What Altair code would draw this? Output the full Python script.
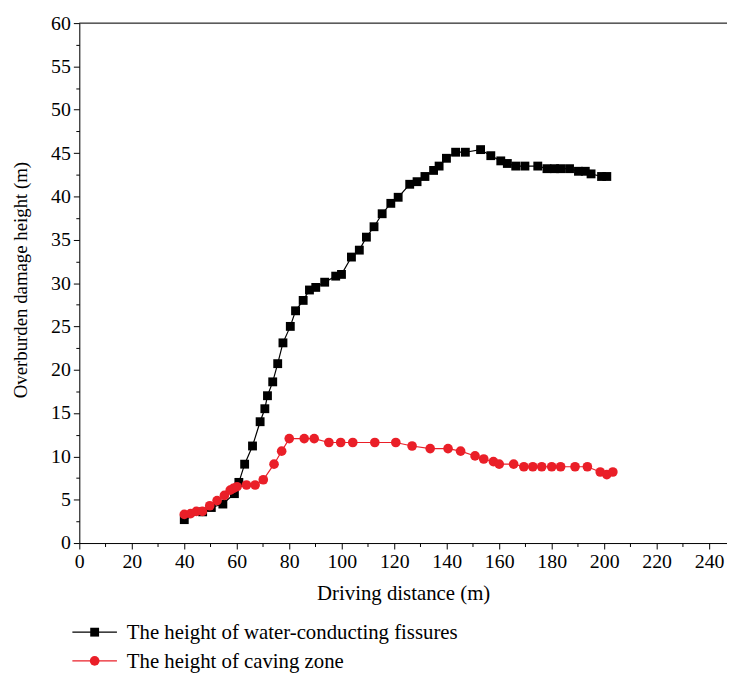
import altair as alt
import pandas as pd

# ---- data ----
fiss_x = [40, 47, 50.3, 54.7, 59.1, 60.8, 63, 66, 68.9, 70.7, 71.7, 73.7, 75.6, 77.6, 80.4, 82.4,
          85.3, 87.7, 90.1, 93.5, 97.7, 99.9, 103.7, 106.7, 109.4, 112.3, 115.4, 118.7, 121.5,
          125.9, 128.7, 131.7, 135, 137.1, 139.9, 143.4, 147.1, 152.9, 156.8, 160.6, 163.1,
          166.3, 169.8, 174.7, 178.2, 181.1, 183.4, 186.8, 190.2, 192.8, 195, 199, 201]
fiss_y = [2.7, 3.6, 4.1, 4.5, 5.7, 7.0, 9.1, 11.2, 14.0, 15.5, 17.0, 18.6, 20.7, 23.1, 25.0, 26.8,
          28.0, 29.2, 29.5, 30.1, 30.8, 31.0, 33.0, 33.8, 35.3, 36.5, 38.0, 39.2, 39.9,
          41.4, 41.7, 42.3, 43.0, 43.5, 44.4, 45.1, 45.1, 45.4, 44.7, 44.1, 43.8,
          43.5, 43.5, 43.5, 43.2, 43.2, 43.2, 43.2, 42.9, 42.9, 42.6, 42.3, 42.3]

cave_x = [40, 42.4, 44.6, 46.9, 49.7, 52.5, 55.3, 57.5, 58.7, 60.1, 63.7, 67, 70.1, 74.2, 77.1,
          80, 85.7, 89.5, 95.1, 99.6, 104.2, 112.6, 120.6, 126.8, 133.7, 140.5, 145.3, 150.8,
          154.1, 157.8, 160, 165.5, 169.4, 172.8, 176.2, 180, 183.4, 188.9, 193.6, 198.5,
          201, 203.3]
cave_y = [3.3, 3.4, 3.65, 3.65, 4.3, 4.9, 5.5, 6.1, 6.3, 6.5, 6.7, 6.7, 7.3, 9.1, 10.6,
          12.05, 12.05, 12.05, 11.6, 11.6, 11.6, 11.6, 11.6, 11.2, 10.9, 10.9, 10.6, 10.05,
          9.7, 9.4, 9.1, 9.1, 8.8, 8.8, 8.8, 8.8, 8.8, 8.8, 8.8, 8.2,
          7.9, 8.2]

x_major = [0, 20, 40, 60, 80, 100, 120, 140, 160, 180, 200, 220, 240]
x_minor = [10, 30, 50, 70, 90, 110, 130, 150, 170, 190, 210, 230]
y_major = [0, 5, 10, 15, 20, 25, 30, 35, 40, 45, 50, 55, 60]
y_minor = [2.5, 7.5, 12.5, 17.5, 22.5, 27.5, 32.5, 37.5, 42.5, 47.5, 52.5, 57.5]

legend_labels = ["The height of water-conducting fissures", "The height of caving zone"]
series_colors = ["#000000", "#EA1F28"]
series_shapes = ["square", "circle"]

FONT = "Liberation Serif"
W, H = 654, 525
TOP = 12

fiss = pd.DataFrame({"x": fiss_x, "y": fiss_y})
cave = pd.DataFrame({"x": cave_x, "y": cave_y})

xs = alt.Scale(domain=[0, 246.8], nice=False, zero=False)
ys = alt.Scale(domain=[0, 60], nice=False)

x_axis = alt.Axis(values=x_major, title="Driving distance (m)", tickSize=6, labelFontSize=20,
                  titleFontSize=21, titleFontWeight="normal", labelFont=FONT, titleFont=FONT,
                  labelPadding=3, titlePadding=11, grid=False, orient="bottom",
                  domainColor="black", tickColor="black", labelColor="black", titleColor="black",
                  labelFlush=False)
y_axis = alt.Axis(values=y_major, title="Overburden damage height (m)", tickSize=6, labelFontSize=20,
                  titleFontSize=19, titleFontWeight="normal", labelFont=FONT, titleFont=FONT,
                  labelPadding=3, grid=False, orient="left", titleX=-49, titleY=259,
                  domainColor="black", tickColor="black", labelColor="black", titleColor="black",
                  labelFlush=False)

x_minor_axis = alt.Axis(values=x_minor, labels=False, title=None, tickSize=3.5, domain=False,
                        grid=False, orient="bottom", tickColor="black")
y_minor_axis = alt.Axis(values=y_minor, labels=False, title=None, tickSize=3.5, domain=False,
                        grid=False, orient="left", tickColor="black")

fiss_line = alt.Chart(fiss).mark_line(color=series_colors[0], strokeWidth=1.2).encode(
    x=alt.X("x:Q", scale=xs, axis=x_axis), y=alt.Y("y:Q", scale=ys, axis=y_axis))
fiss_pts = alt.Chart(fiss).mark_point(shape=series_shapes[0], filled=True, size=80, opacity=1,
                                      color=series_colors[0]).encode(
    x=alt.X("x:Q", scale=xs, axis=x_axis), y=alt.Y("y:Q", scale=ys, axis=y_axis))
cave_line = alt.Chart(cave).mark_line(color=series_colors[1], strokeWidth=1.2).encode(
    x=alt.X("x:Q", scale=xs, axis=x_axis), y=alt.Y("y:Q", scale=ys, axis=y_axis))
cave_pts = alt.Chart(cave).mark_point(shape=series_shapes[1], filled=True, size=95, opacity=1,
                                      color=series_colors[1]).encode(
    x=alt.X("x:Q", scale=xs, axis=x_axis), y=alt.Y("y:Q", scale=ys, axis=y_axis))

main = alt.layer(fiss_line, fiss_pts, cave_line, cave_pts)

minor = alt.Chart(fiss).mark_point(opacity=0).encode(
    x=alt.X("x:Q", scale=xs, axis=x_minor_axis), y=alt.Y("y:Q", scale=ys, axis=y_minor_axis))

one = alt.Data(values=[{"k": 1}])
top_border = alt.Chart(one).mark_rule(color="black", strokeWidth=1).encode(
    x=alt.value(0), x2=alt.value(W), y=alt.value(0))

leg_layers = []
leg_y = [615, 644]
for i, lab in enumerate(legend_labels):
    ly = leg_y[i]
    leg_layers.append(alt.Chart(one).mark_rule(color=series_colors[i], strokeWidth=1.2).encode(
        x=alt.value(-7), x2=alt.value(38), y=alt.value(ly)))
    leg_layers.append(alt.Chart(one).mark_point(shape=series_shapes[i], filled=True, opacity=1,
                                                size=80 if i == 0 else 95,
                                                color=series_colors[i]).encode(
        x=alt.value(15.5), y=alt.value(ly)))
    leg_layers.append(alt.Chart(one).mark_text(text=lab, align="left", baseline="middle",
                                               font=FONT, fontSize=21, color="black").encode(
        x=alt.value(48), y=alt.value(ly + 1)))

chart = alt.layer(minor, main, top_border, *leg_layers).resolve_axis(
    x="independent", y="independent").properties(
    width=W, height=H, autosize=alt.AutoSizeParams(type="none"),
    padding={"left": 72, "top": TOP, "right": 0, "bottom": 130}
).configure_view(stroke=None).configure(background="white")

chart.save("out.html", embed_options={"renderer": "svg", "actions": False})
